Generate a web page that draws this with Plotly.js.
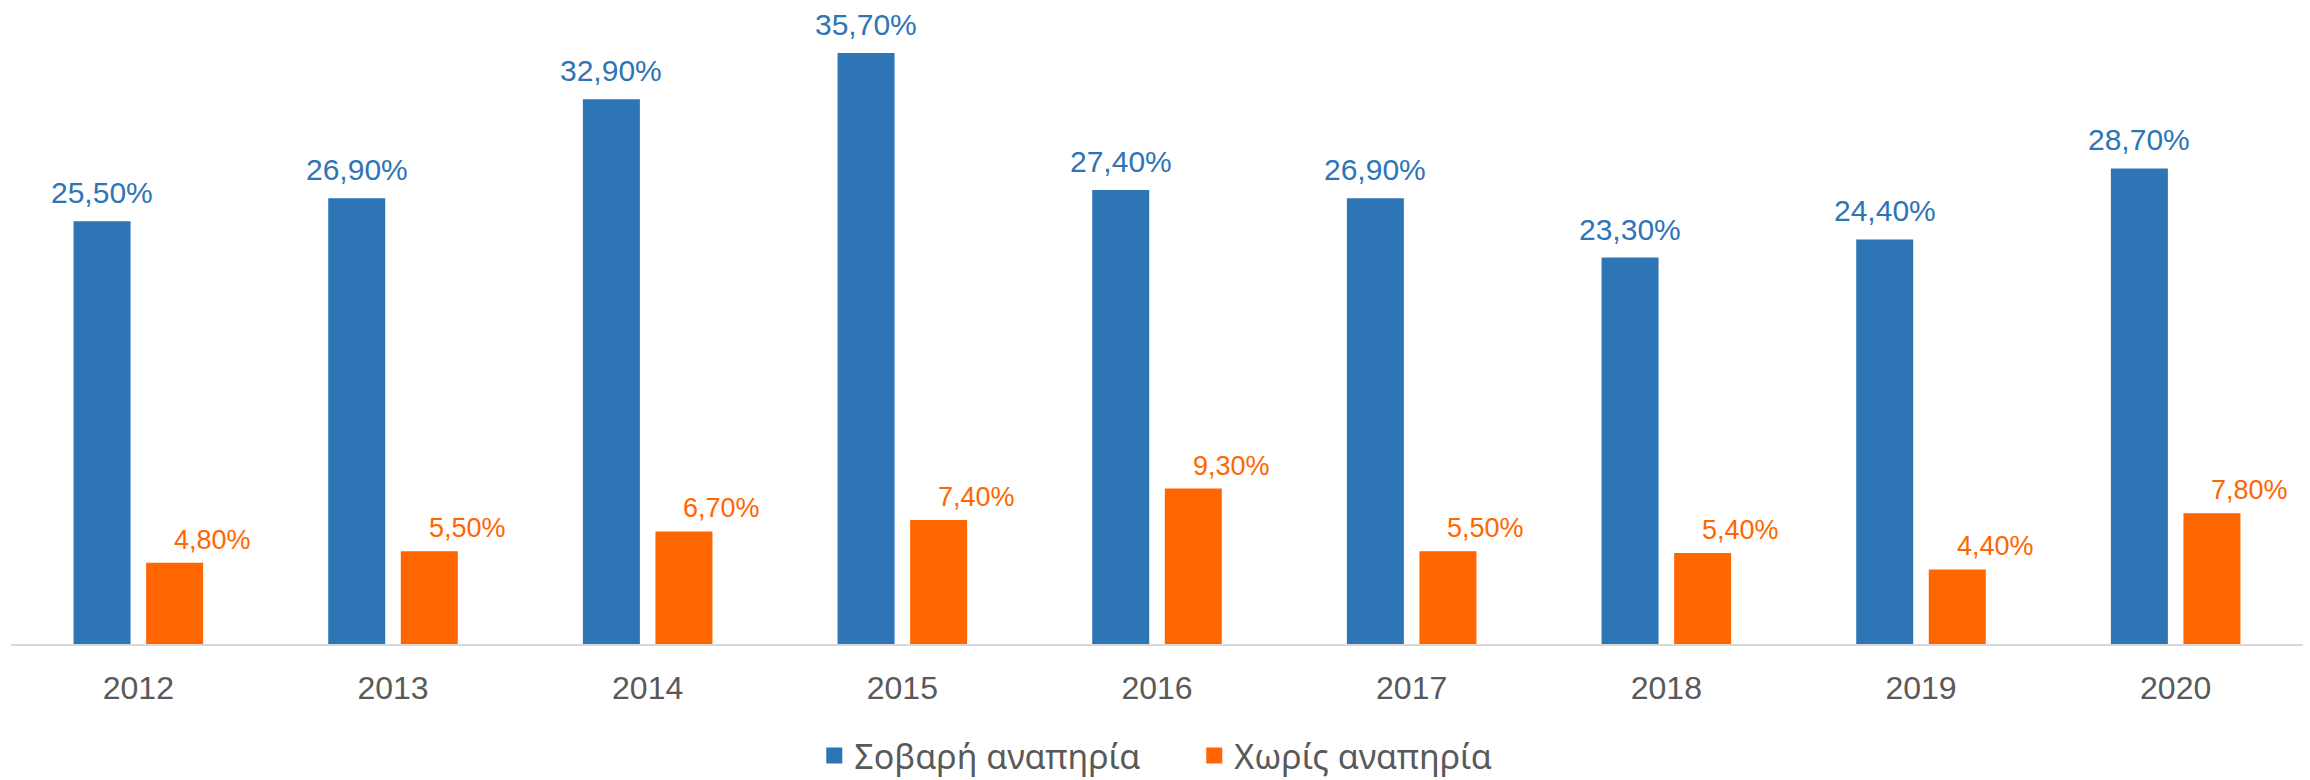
<!DOCTYPE html>
<html>
<head>
<meta charset="utf-8">
<script src="https://cdn.plot.ly/plotly-3.0.1.min.js"></script>
<style>html,body{margin:0;padding:0;background:#fff;}#chart{width:2310px;height:780px;}</style>
</head>
<body>
<div id="chart"></div>
<script>
const years = ['2012','2013','2014','2015','2016','2017','2018','2019','2020'];
const severe = [25.5, 26.9, 32.9, 35.7, 27.4, 26.9, 23.3, 24.4, 28.7];
const noDisability = [4.8, 5.5, 6.7, 7.4, 9.3, 5.5, 5.4, 4.4, 7.8];
const seriesNames = ['Σοβαρή αναπηρία', 'Χωρίς αναπηρία'];

const BLUE = '#2E75B6';
const ORANGE = '#FF6600';
const fmt = v => v.toFixed(2).replace('.', ',') + '%';

const traces = [
  {type: 'bar', name: seriesNames[0], x: years, y: severe,
   marker: {color: BLUE, line: {color: BLUE, width: 4}}, hoverinfo: 'skip'},
  {type: 'bar', name: seriesNames[1], x: years, y: noDisability,
   marker: {color: ORANGE, line: {color: ORANGE, width: 4}}, hoverinfo: 'skip'}
];

const annotations = [];
years.forEach((yr, i) => {
  // category axis: position by category index
  annotations.push({
    x: i, y: severe[i], xref: 'x', yref: 'y', text: fmt(severe[i]),
    showarrow: false, yanchor: 'bottom', xanchor: 'center', xshift: -36.3, yshift: 12,
    font: {family: 'Liberation Sans, Arial, sans-serif', size: 30, color: BLUE}
  });
  annotations.push({
    x: i, y: noDisability[i], xref: 'x', yref: 'y', text: fmt(noDisability[i]),
    showarrow: false, yanchor: 'bottom', xanchor: 'center', xshift: 74.3, yshift: 8,
    font: {family: 'Liberation Sans, Arial, sans-serif', size: 27, color: ORANGE}
  });
});

const layout = {
  width: 2310, height: 780,
  margin: {l: 11, r: 7, t: 0, b: 136},
  paper_bgcolor: '#ffffff', plot_bgcolor: '#ffffff',
  barmode: 'group', bargap: 0.43, bargroupgap: 0.27,
  showlegend: true,
  legend: {
    orientation: 'h', xref: 'container', yref: 'container',
    x: 0.517, xanchor: 'center', y: 0.031, yanchor: 'middle',
    entrywidth: 335,
    font: {family: 'Noto Sans, sans-serif', size: 34, color: '#595959'},
    itemclick: false, itemdoubleclick: false
  },
  xaxis: {
    type: 'category', range: [-0.5, years.length - 0.5],
    showline: true, linecolor: '#D9D9D9', linewidth: 2, layer: 'above traces',
    ticks: 'outside', ticklen: 15, tickcolor: 'rgba(0,0,0,0)',
    tickfont: {family: 'Liberation Sans, Arial, sans-serif', size: 32, color: '#595959'},
    showgrid: false, zeroline: false, fixedrange: true
  },
  yaxis: {
    range: [0, 39.03], showticklabels: false, showgrid: false, zeroline: false,
    showline: false, ticks: '', fixedrange: true
  },
  annotations: annotations
};

Plotly.newPlot('chart', traces, layout, {displayModeBar: false, staticPlot: true});
</script>
</body>
</html>
